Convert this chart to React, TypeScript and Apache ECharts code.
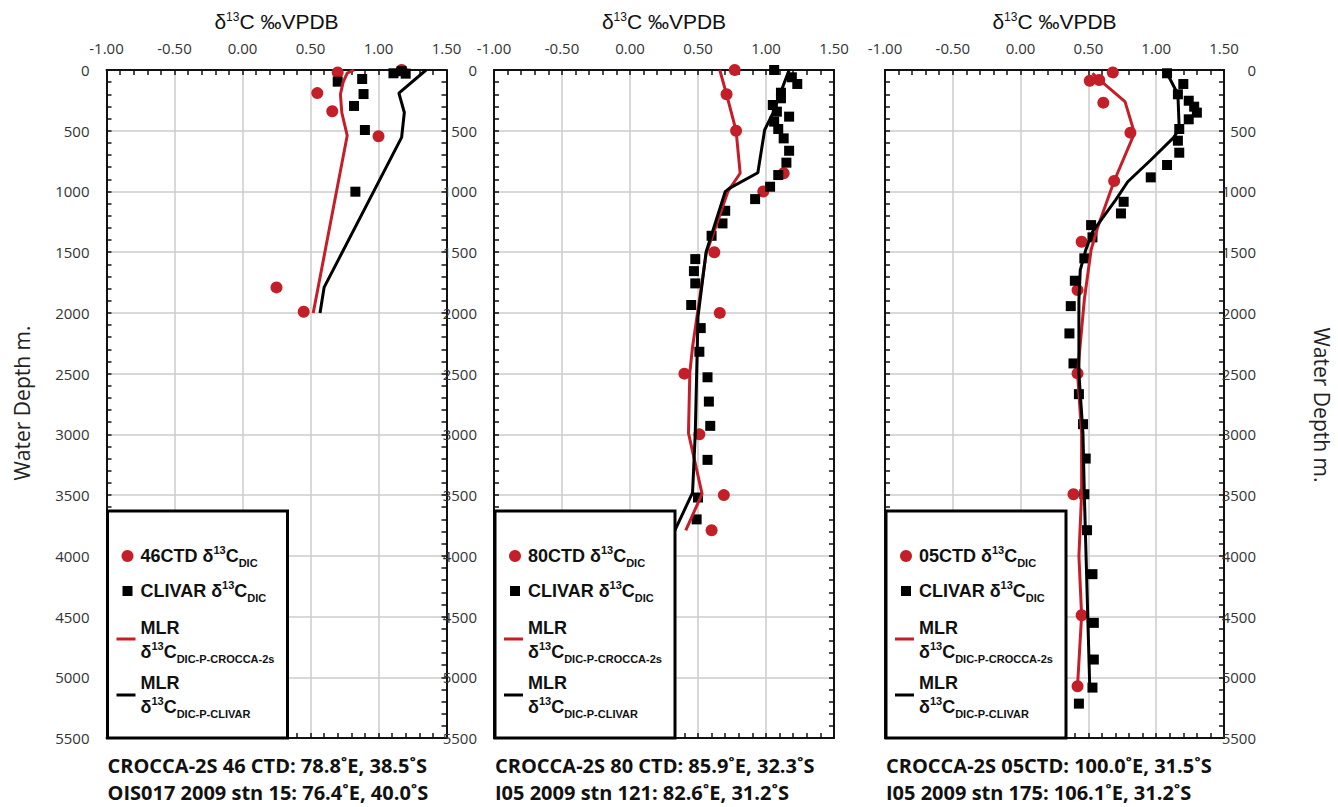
import React, { useEffect, useRef } from 'react';
import * as echarts from 'echarts';

// ---------- data ----------
const xMin = -1.0;
const xMax = 1.5;
const depthMax = 5500;

// Panel 1 : CROCCA-2S 46 CTD / OIS017 2009 stn 15
const p1CtdX = [0.70, 1.17, 0.55, 0.66, 1.00, 0.25, 0.45];
const p1CtdDepth = [20, 0, 190, 340, 545, 1790, 1990];
const p1ClivarX = [0.70, 0.88, 1.11, 1.17, 1.20, 0.89, 0.82, 0.90, 0.83];
const p1ClivarDepth = [96, 74, 27, 10, 30, 198, 296, 494, 1002];
const p1RedLineX = [0.82, 0.77, 0.74, 0.72, 0.73, 0.77, 0.52];
const p1RedLineDepth = [0, 25, 100, 200, 350, 540, 2000];
const p1BlackLineX = [1.35, 1.15, 1.19, 1.17, 0.60, 0.57];
const p1BlackLineDepth = [0, 190, 350, 555, 1790, 2000];

// Panel 2 : CROCCA-2S 80 CTD / I05 2009 stn 121
const p2CtdX = [0.77, 0.71, 0.78, 1.13, 0.98, 0.62, 0.66, 0.40, 0.51, 0.69, 0.60];
const p2CtdDepth = [0, 200, 500, 850, 1000, 1500, 2000, 2500, 3000, 3500, 3790];
const p2ClivarX = [1.06, 1.19, 1.23, 1.11, 1.11, 1.05, 1.08, 1.17, 1.06, 1.09, 1.13, 1.17, 1.15, 1.09, 1.03, 0.92, 0.70, 0.68, 0.60, 0.48, 0.47, 0.48, 0.45, 0.52, 0.51, 0.57, 0.58, 0.59, 0.57, 0.50, 0.49];
const p2ClivarDepth = [0, 60, 115, 187, 233, 288, 343, 384, 425, 486, 563, 665, 763, 865, 961, 1063, 1159, 1263, 1365, 1557, 1656, 1757, 1935, 2125, 2320, 2530, 2730, 2930, 3210, 3520, 3700];
const p2RedLineX = [0.66, 0.71, 0.78, 0.81, 0.72, 0.64, 0.56, 0.46, 0.44, 0.43, 0.53, 0.41];
const p2RedLineDepth = [0, 200, 500, 850, 1000, 1260, 1510, 2280, 2490, 2990, 3490, 3790];
const p2BlackLineX = [1.17, 1.05, 0.99, 0.94, 0.73, 0.70, 0.56, 0.50, 0.48, 0.46, 0.33];
const p2BlackLineDepth = [0, 357, 494, 846, 975, 1002, 1496, 2030, 2990, 3480, 3790];

// Panel 3 : CROCCA-2S 05CTD / I05 2009 stn 175
const p3CtdX = [0.68, 0.51, 0.58, 0.61, 0.81, 0.69, 0.45, 0.42, 0.42, 0.39, 0.45, 0.42];
const p3CtdDepth = [20, 88, 82, 269, 516, 914, 1414, 1812, 2498, 3493, 4489, 5074];
const p3ClivarX = [1.08, 1.20, 1.16, 1.24, 1.28, 1.30, 1.24, 1.17, 1.16, 1.17, 1.08, 0.96, 0.76, 0.74, 0.52, 0.53, 0.47, 0.40, 0.37, 0.36, 0.39, 0.43, 0.46, 0.48, 0.47, 0.49, 0.53, 0.54, 0.54, 0.53, 0.43];
const p3ClivarDepth = [27, 115, 200, 253, 302, 351, 406, 486, 582, 681, 782, 884, 1085, 1181, 1277, 1378, 1551, 1735, 1944, 2169, 2416, 2669, 2916, 3199, 3493, 3789, 4151, 4552, 4854, 5085, 5217];
const p3RedLineX = [0.53, 0.58, 0.77, 0.84, 0.69, 0.57, 0.52, 0.47, 0.42, 0.45, 0.45, 0.43, 0.45, 0.42];
const p3RedLineDepth = [27, 80, 260, 520, 914, 1290, 1480, 1890, 2500, 2990, 3490, 4000, 4490, 5070];
const p3BlackLineX = [1.08, 1.16, 1.17, 1.13, 0.96, 0.79, 0.70, 0.53, 0.48, 0.44, 0.43, 0.43, 0.43, 0.46, 0.47, 0.51];
const p3BlackLineDepth = [27, 200, 486, 555, 741, 920, 1071, 1332, 1483, 1647, 1894, 2306, 2498, 2993, 3493, 5080];

const ctdNames = ['46CTD', '80CTD', '05CTD'];
const captionLine1 = [
  'CROCCA-2S 46 CTD: 78.8˚E, 38.5˚S',
  'CROCCA-2S 80 CTD: 85.9˚E, 32.3˚S',
  'CROCCA-2S 05CTD: 100.0˚E, 31.5˚S',
];
const captionLine2 = [
  'OIS017 2009 stn 15: 76.4˚E, 40.0˚S',
  'I05 2009 stn 121: 82.6˚E, 31.2˚S',
  'I05 2009 stn 175: 106.1˚E, 31.2˚S',
];

const panels = [
  { ctdX: p1CtdX, ctdD: p1CtdDepth, clX: p1ClivarX, clD: p1ClivarDepth, rX: p1RedLineX, rD: p1RedLineDepth, bX: p1BlackLineX, bD: p1BlackLineDepth },
  { ctdX: p2CtdX, ctdD: p2CtdDepth, clX: p2ClivarX, clD: p2ClivarDepth, rX: p2RedLineX, rD: p2RedLineDepth, bX: p2BlackLineX, bD: p2BlackLineDepth },
  { ctdX: p3CtdX, ctdD: p3CtdDepth, clX: p3ClivarX, clD: p3ClivarDepth, rX: p3RedLineX, rD: p3RedLineDepth, bX: p3BlackLineX, bD: p3BlackLineDepth },
];

// ---------- layout / style ----------
const RED = '#c41f28';
const FRAME = '#111111';
const GRIDLINE = '#cccccc';
const gridBoxes = [
  { left: 106.5, top: 70, width: 340, height: 668 },
  { left: 494, top: 70, width: 340, height: 668 },
  { left: 885, top: 70, width: 339, height: 668 },
];
const TICK_FONT = 'Open Sans';
const LEG_FONT = 'Liberation Sans';

const zip = (xs: number[], ys: number[]) => xs.map((x, i) => [x, ys[i]]);

function buildOption() {
  const xAxis: any[] = [];
  const yAxis: any[] = [];
  const series: any[] = [];
  const graphic: any[] = [];

  gridBoxes.forEach((g, i) => {
    xAxis.push({
      gridIndex: i, type: 'value', position: 'top', min: xMin, max: xMax, interval: 0.5,
      axisLine: { show: true, onZero: false, lineStyle: { color: FRAME, width: 2 } },
      axisTick: { show: true, inside: true, length: 5, lineStyle: { color: FRAME, width: 1.5 } },
      minorTick: { show: true, splitNumber: 5, length: 5, lineStyle: { color: FRAME, width: 1.5 } },
      splitLine: { show: true, lineStyle: { color: GRIDLINE, width: 1.5 } },
      axisLabel: { formatter: (v: number) => v.toFixed(2), fontFamily: TICK_FONT, fontSize: 15, color: '#333', margin: 15 },
    });
    xAxis.push({
      gridIndex: i, type: 'value', position: 'bottom', min: xMin, max: xMax, interval: 0.5,
      axisLine: { show: true, onZero: false, lineStyle: { color: FRAME, width: 2 } },
      axisTick: { show: true, inside: true, length: 5, lineStyle: { color: FRAME, width: 1.5 } },
      minorTick: { show: true, splitNumber: 5, length: 5, lineStyle: { color: FRAME, width: 1.5 } },
      splitLine: { show: false },
      axisLabel: { show: false },
    });
    yAxis.push({
      gridIndex: i, type: 'value', position: 'left', inverse: true, min: 0, max: depthMax, interval: 500,
      axisLine: { show: true, onZero: false, lineStyle: { color: FRAME, width: 2 } },
      axisTick: { show: true, inside: true, length: 5, lineStyle: { color: FRAME, width: 1.5 } },
      minorTick: { show: true, splitNumber: 5, length: 5, lineStyle: { color: FRAME, width: 1.5 } },
      splitLine: { show: true, lineStyle: { color: GRIDLINE, width: 1.5 } },
      axisLabel: { show: i < 2, formatter: (v: number) => String(v), fontFamily: TICK_FONT, fontSize: 15, color: '#333', margin: 17 },
    });
    yAxis.push({
      gridIndex: i, type: 'value', position: 'right', inverse: true, min: 0, max: depthMax, interval: 500,
      axisLine: { show: true, onZero: false, lineStyle: { color: FRAME, width: 2 } },
      axisTick: { show: true, inside: true, length: 5, lineStyle: { color: FRAME, width: 1.5 } },
      minorTick: { show: true, splitNumber: 5, length: 5, lineStyle: { color: FRAME, width: 1.5 } },
      splitLine: { show: false },
      axisLabel: { show: i === 2, formatter: (v: number) => String(v), fontFamily: TICK_FONT, fontSize: 15, color: '#333', margin: 32, align: 'right' },
    });

    const p = panels[i];
    series.push({
      type: 'scatter', xAxisIndex: 2 * i, yAxisIndex: 2 * i, data: zip(p.ctdX, p.ctdD),
      symbol: 'circle', symbolSize: 12, itemStyle: { color: RED, opacity: 1 },
    });
    series.push({
      type: 'scatter', xAxisIndex: 2 * i, yAxisIndex: 2 * i, data: zip(p.clX, p.clD),
      symbol: 'rect', symbolSize: 10, itemStyle: { color: '#000', opacity: 1 },
    });
    series.push({
      type: 'line', xAxisIndex: 2 * i, yAxisIndex: 2 * i, data: zip(p.rX, p.rD),
      symbol: 'none', showSymbol: false, lineStyle: { color: RED, width: 3 },
    });
    series.push({
      type: 'line', xAxisIndex: 2 * i, yAxisIndex: 2 * i, data: zip(p.bX, p.bD),
      symbol: 'none', showSymbol: false, lineStyle: { color: '#000', width: 3 },
    });

    // title
    const cx = g.left + g.width / 2;
    graphic.push({
      type: 'text', x: cx, y: 21, z: 100,
      style: {
        text: 'δ{sup|13}C ‰VPDB', textAlign: 'center', textVerticalAlign: 'middle',
        fontFamily: LEG_FONT, fontSize: 21, fill: '#111',
        rich: {
          sup: { fontFamily: LEG_FONT, fontSize: 12, lineHeight: 12, verticalAlign: 'top', fill: '#111' },
        },
      },
    });

    // legend box
    const L = g.left + 1;
    const legRich = {
      m: { fontFamily: LEG_FONT, fontWeight: 'bold', fontSize: 18, lineHeight: 24, fill: '#111' },
      sup: { fontFamily: LEG_FONT, fontWeight: 'bold', fontSize: 11, lineHeight: 12, verticalAlign: 'top', fill: '#111' },
      sub: { fontFamily: LEG_FONT, fontWeight: 'bold', fontSize: 11, lineHeight: 10, verticalAlign: 'bottom', fill: '#111' },
    };
    const txt = (y: number, text: string) => ({
      type: 'text', x: L + 33, y, z: 101,
      style: { text, rich: legRich, textAlign: 'left', textVerticalAlign: 'middle', fontFamily: LEG_FONT, fontWeight: 'bold', fontSize: 18, fill: '#111' },
    });
    graphic.push({
      type: 'rect', z: 100, shape: { x: L, y: 511, width: 180, height: 227 },
      style: { fill: '#fff', stroke: '#000', lineWidth: 3 },
    });
    graphic.push({ type: 'circle', z: 101, shape: { cx: L + 20, cy: 556, r: 6 }, style: { fill: RED } });
    graphic.push(txt(556, `{m|${ctdNames[i]} δ}{sup|13}{m|C}{sub|DIC}`));
    graphic.push({ type: 'rect', z: 101, shape: { x: L + 15, y: 586, width: 10, height: 10 }, style: { fill: '#000' } });
    graphic.push(txt(591, '{m|CLIVAR δ}{sup|13}{m|C}{sub|DIC}'));
    graphic.push({ type: 'line', z: 101, shape: { x1: L + 9, y1: 639, x2: L + 28, y2: 639 }, style: { stroke: RED, lineWidth: 3 } });
    graphic.push(txt(628, '{m|MLR}'));
    graphic.push(txt(652, '{m|δ}{sup|13}{m|C}{sub|DIC-P-CROCCA-2s}'));
    graphic.push({ type: 'line', z: 101, shape: { x1: L + 9, y1: 695, x2: L + 28, y2: 695 }, style: { stroke: '#000', lineWidth: 3 } });
    graphic.push(txt(683, '{m|MLR}'));
    graphic.push(txt(707, '{m|δ}{sup|13}{m|C}{sub|DIC-P-CLIVAR}'));

    // captions
    graphic.push({
      type: 'text', x: g.left + 1, y: 765, z: 100,
      style: { text: captionLine1[i], fontFamily: TICK_FONT, fontWeight: 'bold', fontSize: 20, fill: '#111', textAlign: 'left', textVerticalAlign: 'middle' },
    });
    graphic.push({
      type: 'text', x: g.left + 1, y: 792, z: 100,
      style: { text: captionLine2[i], fontFamily: TICK_FONT, fontWeight: 'bold', fontSize: 20, fill: '#111', textAlign: 'left', textVerticalAlign: 'middle' },
    });
  });

  // axis names
  graphic.push({
    type: 'text', x: 22, y: 403, rotation: Math.PI / 2, z: 100,
    style: { text: 'Water Depth m.', fontFamily: TICK_FONT, fontSize: 21, fill: '#222', textAlign: 'center', textVerticalAlign: 'middle' },
  });
  graphic.push({
    type: 'text', x: 1322, y: 405, rotation: -Math.PI / 2, z: 100,
    style: { text: 'Water Depth m.', fontFamily: TICK_FONT, fontSize: 21, fill: '#222', textAlign: 'center', textVerticalAlign: 'middle' },
  });

  return { animation: false, grid: gridBoxes, xAxis, yAxis, series, graphic };
}

export default function App() {
  const ref = useRef<HTMLDivElement>(null);
  useEffect(() => {
    if (!ref.current) return;
    const chart = echarts.init(ref.current, null, { renderer: 'svg' });
    chart.setOption(buildOption() as any);
    return () => chart.dispose();
  }, []);
  return (
    <div
      ref={ref}
      style={{ position: 'fixed', left: 0, top: 0, width: 1338, height: 807, background: '#fff' }}
    />
  );
}
